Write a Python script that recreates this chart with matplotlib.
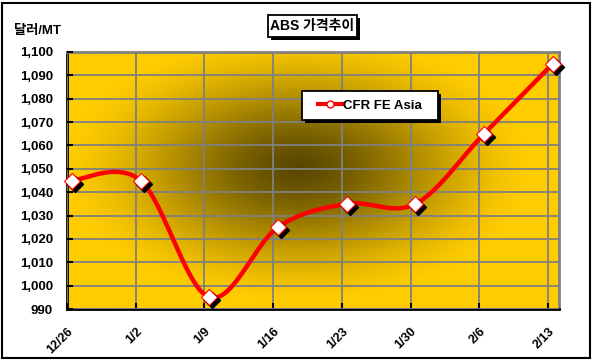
import numpy as np
import matplotlib.pyplot as plt
from matplotlib.patches import Rectangle
from matplotlib.lines import Line2D
from matplotlib.transforms import offset_copy

# data
dates = ['12/26', '1/2', '1/9', '1/16', '1/23', '1/30', '2/6', '2/13']
prices = [1045, 1045, 995, 1025, 1035, 1035, 1065, 1095]
series_name = 'CFR FE Asia'
title = 'ABS 가격추이'
y_label = '달러/MT'

plt.rcParams['font.family'] = ['Liberation Sans', 'Noto Sans CJK KR', 'DejaVu Sans']

W, H = 594, 361
fig = plt.figure(figsize=(W / 100, H / 100), dpi=100)
fig.patch.set_facecolor('white')

# plot area in pixels (image coords)
L, R, T, B = 67, 559, 52, 309
ax = fig.add_axes([L / W, 1 - B / H, (R - L) / W, (B - T) / H])

x_ticks = np.arange(len(dates))
x_data = x_ticks + 0.07
xmax = 7.16
ax.set_xlim(0, xmax)
ax.set_ylim(990, 1100)

# radial yellow/dark background
nx, ny = 400, 220
gx = np.linspace(0, 1, nx)
gy = np.linspace(0, 1, ny)
XX, YY = np.meshgrid(gx, gy)
r = np.sqrt(((XX - 0.47) / 0.47) ** 2 + ((YY - 0.55) / 0.52) ** 2)
t = np.clip(r, 0, 1)
t = t * t * (3 - 2 * t) * 0.6 + t * 0.4
dark = np.array([0.35, 0.28, 0.0])
light = np.array([1.0, 0.80, 0.0])
img = dark[None, None, :] * (1 - t[..., None]) + light[None, None, :] * t[..., None]
ax.imshow(img, extent=[0, xmax, 990, 1100], origin='lower', aspect='auto', zorder=0)

# grid
ax.set_yticks(np.arange(990, 1101, 10))
ax.set_xticks(x_ticks)
ax.grid(True, color='#808080', linewidth=1.3, zorder=1)
ax.set_axisbelow(False)
for gl in ax.get_xgridlines() + ax.get_ygridlines():
    gl.set_zorder(1)

ax.spines['top'].set_color('#808080')
ax.spines['right'].set_color('#808080')
ax.spines['top'].set_linewidth(2)
ax.spines['right'].set_linewidth(2)
ax.spines['left'].set_linewidth(2)
ax.spines['bottom'].set_linewidth(2)
ax.tick_params(direction='in', length=4, width=1.5, color='black')
ax.set_yticklabels([f'{v:,}' for v in range(990, 1101, 10)],
                   fontsize=9.5, fontweight='bold')
ax.set_xticklabels(dates, rotation=45, ha='right', rotation_mode='anchor',
                   fontsize=9, fontweight='bold')
ax.tick_params(axis='y', pad=10)
ax.tick_params(axis='x', pad=12)

# smoothed line (Excel-like Catmull-Rom Bezier)
px = np.array(x_data, dtype=float)
py = np.array(prices, dtype=float)
n = len(px)
cx, cy = [], []
for i in range(n - 1):
    p0 = (px[max(i - 1, 0)], py[max(i - 1, 0)])
    p1 = (px[i], py[i])
    p2 = (px[i + 1], py[i + 1])
    p3 = (px[min(i + 2, n - 1)], py[min(i + 2, n - 1)])
    c1 = (p1[0] + (p2[0] - p0[0]) / 6, p1[1] + (p2[1] - p0[1]) / 6)
    c2 = (p2[0] - (p3[0] - p1[0]) / 6, p2[1] - (p3[1] - p1[1]) / 6)
    s = np.linspace(0, 1, 40)
    bx = (1 - s) ** 3 * p1[0] + 3 * (1 - s) ** 2 * s * c1[0] + 3 * (1 - s) * s ** 2 * c2[0] + s ** 3 * p2[0]
    by = (1 - s) ** 3 * p1[1] + 3 * (1 - s) ** 2 * s * c1[1] + 3 * (1 - s) * s ** 2 * c2[1] + s ** 3 * p2[1]
    cx.extend(bx)
    cy.extend(by)
ax.plot(cx, cy, color='red', linewidth=3.2, zorder=3, clip_on=False,
        solid_capstyle='round')

# markers with shadow
shadow = offset_copy(ax.transData, fig, x=3, y=-3, units='dots')
ax.plot(x_data, prices, linestyle='none', marker='D', markersize=8.5,
        color='black', transform=shadow, zorder=4, clip_on=False)
ax.plot(x_data, prices, linestyle='none', marker='D', markersize=8.5,
        markerfacecolor='white', markeredgecolor='red', markeredgewidth=0.8,
        zorder=5, clip_on=False)

# helper for boxes in image pixel coords
def box(x0, y0, x1, y1, shadow_off=3):
    fig.add_artist(Rectangle((x0 + shadow_off, H - y1 - shadow_off), x1 - x0, y1 - y0,
                             transform=None, facecolor='black', edgecolor='black',
                             linewidth=0, zorder=10))
    fig.add_artist(Rectangle((x0, H - y1), x1 - x0, y1 - y0, transform=None,
                             facecolor='white', edgecolor='black', linewidth=1.3,
                             zorder=11))

# title
box(268, 15, 357, 37)
fig.text(312.5 / W, 1 - 26 / H, title, ha='center', va='center',
         fontsize=10, fontweight='bold', zorder=12)

# y label
fig.text(14 / W, 1 - 31 / H, y_label, ha='left', va='center',
         fontsize=9.5, fontweight='bold')

# legend
box(302, 91, 438, 120)
handle = Line2D([], [], color='red', linewidth=3, marker='o', markersize=5,
                markerfacecolor='white', markeredgecolor='red')
leg = fig.legend([handle], [series_name], loc='center',
                 bbox_to_anchor=(370 / W, 1 - 105.5 / H), frameon=False,
                 prop={'size': 9.5, 'weight': 'bold'}, handlelength=1.8,
                 handletextpad=0.1, borderpad=0)
leg.set_zorder(12)

# outer border
fig.add_artist(Rectangle((2, 3), 588, 355, transform=None, fill=False,
                         edgecolor='black', linewidth=1.5))

fig.savefig('out.png', dpi=100)
